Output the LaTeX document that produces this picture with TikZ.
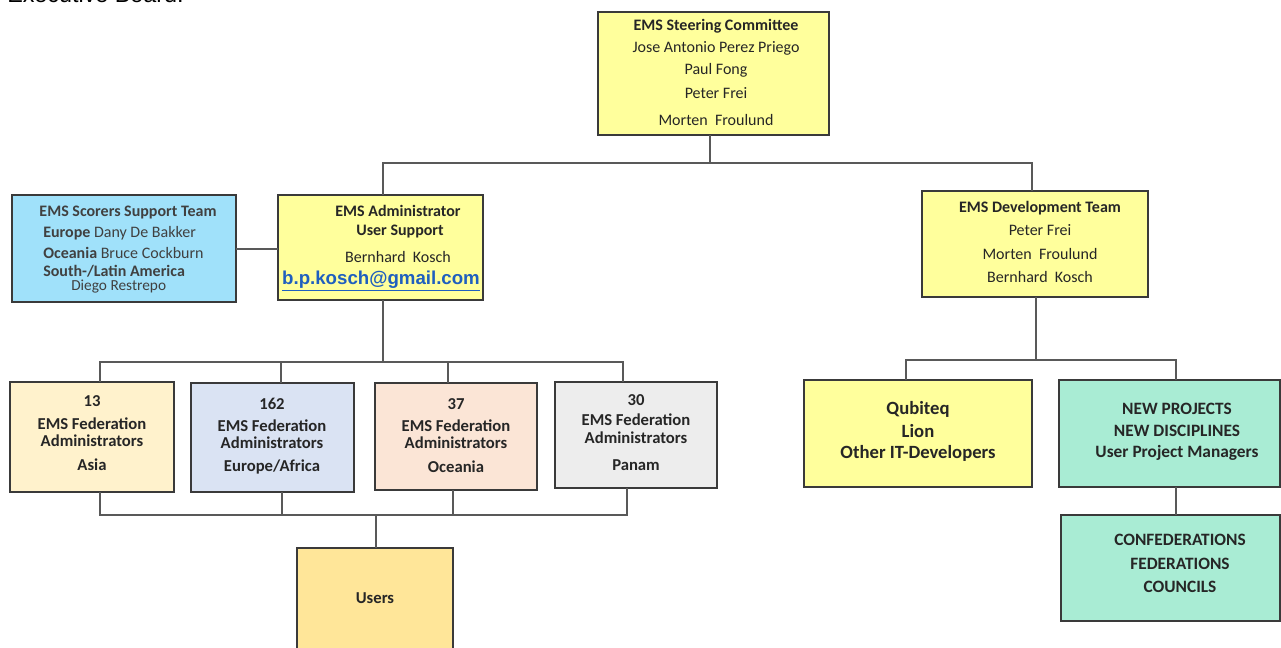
\documentclass[tikz,border=0pt]{standalone}
\usepackage{fontspec}
\setmainfont{Carlito}
\newfontfamily\arialf{Liberation Sans}
\definecolor{boxline}{HTML}{3A3A3A}
\definecolor{connline}{HTML}{595959}
\definecolor{textc}{HTML}{262626}
\definecolor{greyt}{HTML}{404040}
\definecolor{ylw}{HTML}{FFFF9C}
\definecolor{sky}{HTML}{A0E1FA}
\definecolor{asia}{HTML}{FFF2CC}
\definecolor{euro}{HTML}{DAE3F3}
\definecolor{ocea}{HTML}{FBE5D6}
\definecolor{panam}{HTML}{EDEDED}
\definecolor{users}{HTML}{FFE699}
\definecolor{mint}{HTML}{A9ECD4}
\definecolor{linkc}{HTML}{1F5FBF}
\newcommand\mybox[6]{%
 \pgfmathsetmacro\bxw{(#4-#2)*0.75}\pgfmathsetmacro\bxh{(#5-#3)*0.75}%
 \node[box,fill=#6,minimum width=\bxw pt,minimum height=\bxh pt] (#1) at ({(#2+#4)/2},{(#3+#5)/2}) {};}
\begin{document}
\begin{tikzpicture}[x=0.75pt,y=-0.75pt,
  box/.style={draw=boxline,line width=0.9pt,inner sep=0pt,outer sep=0pt},
  conn/.style={draw=connline,line width=0.8pt},
  txt/.style={inner sep=0pt,text=textc,font=\fontsize{12}{14}\selectfont},
  btxt/.style={inner sep=0pt,text=textc,font=\fontsize{12}{14}\selectfont\bfseries},
  fbtxt/.style={inner sep=0pt,text=textc,font=\fontsize{12.5}{14}\selectfont\bfseries},
  gbtxt/.style={inner sep=0pt,text=textc,font=\fontsize{13}{15}\selectfont\bfseries},
  qbtxt/.style={inner sep=0pt,text=textc,font=\fontsize{14}{16}\selectfont\bfseries},
  stxt/.style={inner sep=0pt,text=greyt,font=\fontsize{12}{14}\selectfont}]
\useasboundingbox (0,0) rectangle (1281,648);
\fill[white] (0,0) rectangle (1281,648);
\node[anchor=base west,inner sep=0pt,font=\arialf\fontsize{17.5}{20}\selectfont] (eb) at (7,2.5) {Executive Board.};

% boxes
\mybox{steer}{598}{12}{829}{135}{ylw}
\mybox{score}{12}{195}{236}{302}{sky}
\mybox{adm}{278}{195}{483}{300}{ylw}
\mybox{dev}{922}{191}{1148}{297}{ylw}
\mybox{asia}{10}{382}{174}{492}{asia}
\mybox{euro}{191}{383}{354}{492}{euro}
\mybox{ocea}{375}{383}{537}{490}{ocea}
\mybox{pana}{555}{382}{717}{488}{panam}
\mybox{usr}{297}{548}{453}{670}{users}
\mybox{qub}{804}{380}{1032}{487}{ylw}
\mybox{newp}{1059}{380}{1280}{487}{mint}
\mybox{conf}{1061}{515}{1280}{621}{mint}

% connectors
\coordinate (tA) at (383,163);
\coordinate (tB) at (1032,163);
\draw[conn] (steer.south -| 710,0) -- (710,163);
\draw[conn] (adm.north -| tA) -- (tA) -- (tB) -- (dev.north -| tB);
\draw[conn] (score.east |- 0,249) -- (adm.west |- 0,249);
\coordinate (fA) at (100,362);
\coordinate (fB) at (623,362);
\draw[conn] (adm.south -| 383,0) -- (383,362);
\draw[conn] (asia.north -| fA) -- (fA) -- (fB) -- (pana.north -| fB);
\draw[conn] (euro.north -| 281,0) -- (281,362);
\draw[conn] (ocea.north -| 448,0) -- (448,362);
\coordinate (uA) at (100,515);
\coordinate (uB) at (627,515);
\draw[conn] (asia.south -| uA) -- (uA) -- (uB) -- (pana.south -| uB);
\draw[conn] (euro.south -| 282,0) -- (282,515);
\draw[conn] (ocea.south -| 453,0) -- (453,515);
\draw[conn] (376,515) -- (usr.north -| 376,0);
\coordinate (dA) at (906,360);
\coordinate (dB) at (1176,360);
\draw[conn] (dev.south -| 1036,0) -- (1036,360);
\draw[conn] (qub.north -| dA) -- (dA) -- (dB) -- (newp.north -| dB);
\draw[conn] (newp.south -| 1176,0) -- (conf.north -| 1176,0);

% steering texts
\node[btxt] (s1) at (716,26) {EMS Steering Committee};
\node[txt] (s2) at (716,48) {Jose Antonio Perez Priego};
\node[txt] (s3) at (716,70) {Paul Fong};
\node[txt] (s4) at (716,93) {Peter Frei};
\node[txt] (s5) at (716,120) {Morten\ \ Froulund};

% scorers
\node[stxt,font=\fontsize{12}{14}\selectfont\bfseries] (c1) at (128,213) {EMS Scorers Support Team};
\node[stxt,anchor=west] (c2) at (43,233) {\textbf{Europe} Dany De Bakker};
\node[stxt,anchor=west] (c3) at (43,253) {\textbf{Oceania} Bruce Cockburn};
\node[stxt,anchor=west,font=\fontsize{12}{14}\selectfont\bfseries] (c4) at (43,271) {South-/Latin America};
\node[stxt,anchor=west,font=\fontsize{11.5}{13}\selectfont] (c5) at (71,287) {Diego Restrepo};

% admin
\node[btxt] (a1) at (398,211) {EMS Administrator};
\node[btxt] (a2) at (400,232) {User Support};
\node[txt] (a3) at (398,257) {Bernhard\ \ Kosch};
\node[inner sep=0pt,text=linkc,font=\arialf\fontsize{14}{16}\selectfont\bfseries] (a4) at (381,281) {\underline{b.p.kosch@gmail.com}};

% dev team
\node[btxt] (d1) at (1040,208) {EMS Development Team};
\node[txt] (d2) at (1040,230) {Peter Frei};
\node[txt] (d3) at (1040,254) {Morten\ \ Froulund};
\node[txt] (d4) at (1040,277) {Bernhard\ \ Kosch};

% federation boxes
\node[fbtxt] (f11) at (92,401) {13};
\node[fbtxt] (f12) at (92,424) {EMS Federation};
\node[fbtxt] (f13) at (92,441) {Administrators};
\node[fbtxt] (f14) at (92,465) {Asia};
\node[fbtxt] (f21) at (272,404) {162};
\node[fbtxt] (f22) at (272,426) {EMS Federation};
\node[fbtxt] (f23) at (272,443) {Administrators};
\node[fbtxt] (f24) at (272,467) {Europe/Africa};
\node[fbtxt] (f31) at (456,404) {37};
\node[fbtxt] (f32) at (456,426) {EMS Federation};
\node[fbtxt] (f33) at (456,443) {Administrators};
\node[fbtxt] (f34) at (456,467) {Oceania};
\node[fbtxt] (f41) at (636,400) {30};
\node[fbtxt] (f42) at (636,420) {EMS Federation};
\node[fbtxt] (f43) at (636,438) {Administrators};
\node[fbtxt] (f44) at (636,465) {Panam};

\node[fbtxt] (u1) at (375,598) {Users};

\node[qbtxt] (q1) at (918,409) {Qubiteq};
\node[qbtxt] (q2) at (918,431) {Lion};
\node[qbtxt] (q3) at (918,453) {Other IT-Developers};
\node[gbtxt] (n1) at (1177,409) {NEW PROJECTS};
\node[gbtxt] (n2) at (1177,431) {NEW DISCIPLINES};
\node[gbtxt] (n3) at (1177,453) {User Project Managers};
\node[gbtxt] (k1) at (1180,540) {CONFEDERATIONS};
\node[gbtxt] (k2) at (1180,564) {FEDERATIONS};
\node[gbtxt] (k3) at (1180,587) {COUNCILS};
\end{tikzpicture}
\end{document}
